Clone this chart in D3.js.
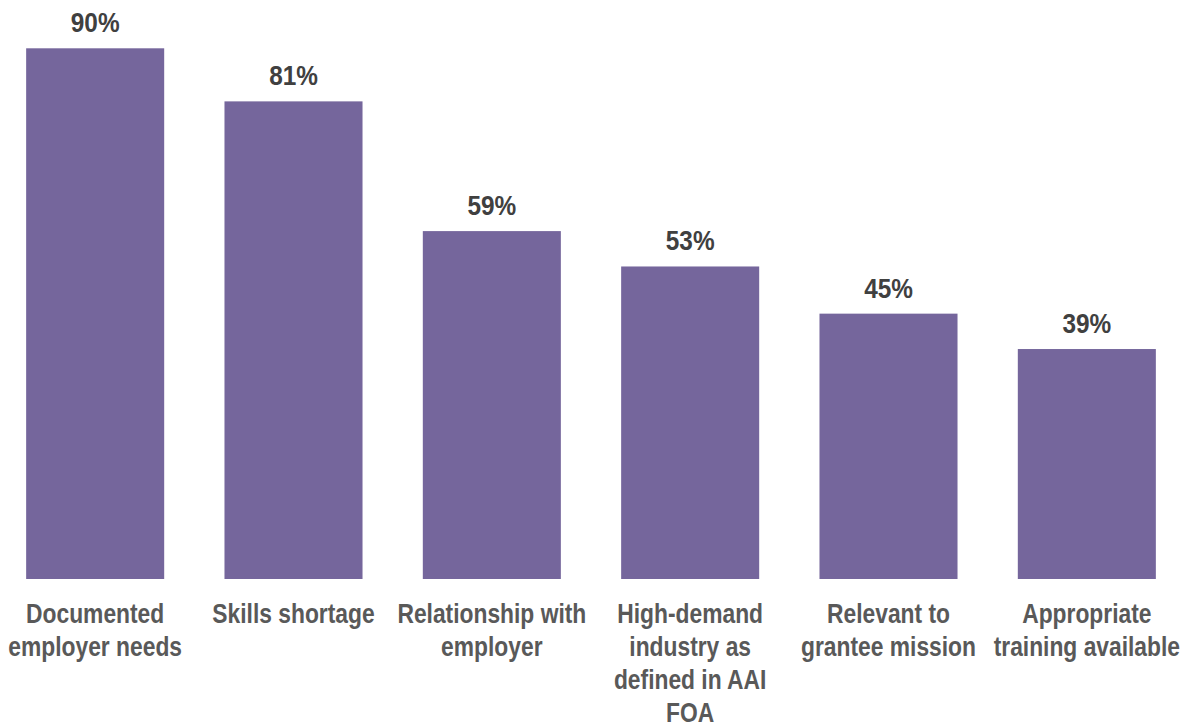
<!DOCTYPE html>
<html>
<head>
<meta charset="utf-8">
<script src="https://cdn.jsdelivr.net/npm/d3@7"></script>
<style>
  html, body { margin: 0; padding: 0; background: #ffffff; }
  svg { display: block; }
</style>
</head>
<body>
<svg id="chart" width="1190" height="727"></svg>
<script>
// Share of respondents citing each factor
const categories = [
  "Documented employer needs",
  "Skills shortage",
  "Relationship with employer",
  "High-demand industry as defined in AAI FOA",
  "Relevant to grantee mission",
  "Appropriate training available"
];
const values = [90, 81, 59, 53, 45, 39];
const categoryLines = [
  ["Documented", "employer needs"],
  ["Skills shortage"],
  ["Relationship with", "employer"],
  ["High-demand", "industry as", "defined in AAI", "FOA"],
  ["Relevant to", "grantee mission"],
  ["Appropriate", "training available"]
];

const baseline = 579;
const svg = d3.select("#chart");

const x = d3.scaleBand()
  .domain(categories)
  .range([-4, 1186])
  .paddingInner(0.304)
  .paddingOuter(0.152);

const y = d3.scaleLinear()
  .domain([0, 90])
  .range([baseline, 48.3]);

const data = categories.map((c, i) => ({ cat: c, value: values[i], lines: categoryLines[i] }));
const cx = d => x(d.cat) + x.bandwidth() / 2;

svg.append("g")
  .selectAll("rect")
  .data(data)
  .join("rect")
  .attr("x", d => x(d.cat))
  .attr("y", d => y(d.value))
  .attr("width", x.bandwidth())
  .attr("height", d => baseline - y(d.value))
  .attr("fill", "#75669c");

// value labels above bars (slightly condensed bold face)
svg.append("g")
  .selectAll("text")
  .data(data)
  .join("text")
  .attr("transform", d => `translate(${cx(d)},${y(d.value) - 16}) scale(0.87,1)`)
  .attr("text-anchor", "middle")
  .attr("font-family", "'Liberation Sans', Arial, sans-serif")
  .attr("font-weight", "bold")
  .attr("font-size", 28)
  .attr("fill", "#404040")
  .text(d => d.value + "%");

// category labels below bars (condensed bold face)
const lab = svg.append("g")
  .selectAll("text")
  .data(data)
  .join("text")
  .attr("transform", d => `translate(${cx(d)},623) scale(0.815,1)`)
  .attr("text-anchor", "middle")
  .attr("font-family", "'Liberation Sans', Arial, sans-serif")
  .attr("font-weight", "bold")
  .attr("font-size", 28)
  .attr("fill", "#595959");
lab.selectAll("tspan")
  .data(d => d.lines)
  .join("tspan")
  .attr("x", 0)
  .attr("dy", (d, i) => i === 0 ? 0 : 33)
  .text(d => d);
</script>
</body>
</html>
